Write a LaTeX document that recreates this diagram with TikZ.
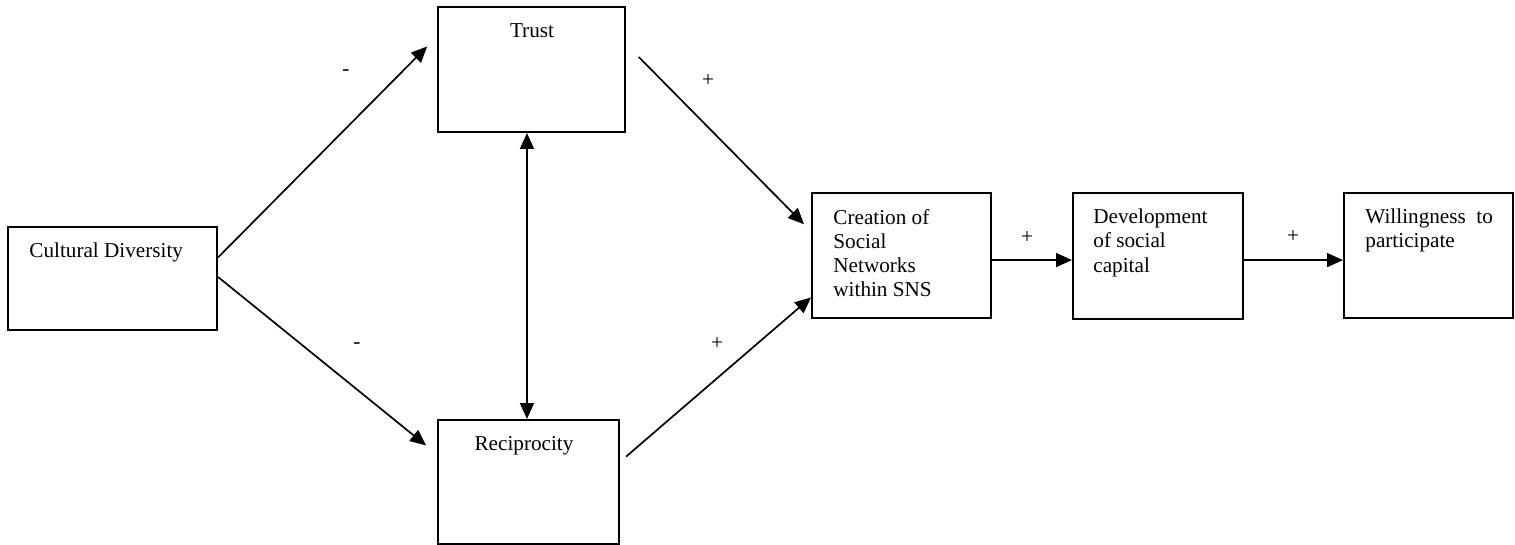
\documentclass[tikz,border=0pt]{standalone}
\usepackage{fontspec}
\setmainfont{Liberation Serif}
\usetikzlibrary{arrows.meta,calc}
\begin{document}
\begin{tikzpicture}[x=0.5pt,y=-0.5pt,
  box/.style={draw, line width=1pt, inner sep=0pt},
  txt/.style={inner sep=0pt, font=\fontsize{10.6pt}{12.15pt}\selectfont, align=left},
  sign/.style={inner sep=0pt, font=\fontsize{10.6pt}{12.15pt}\selectfont},
  arr/.style={-{Triangle[length=8pt,width=7pt]}, line width=0.85pt},
  darr/.style={{Triangle[length=8pt,width=7pt]}-{Triangle[length=8pt,width=7pt]}, line width=0.85pt}]
\useasboundingbox (0,0) rectangle (1515,545);
% boxes
\node[box, minimum width=104.5pt, minimum height=51.5pt] (cd) at (112.5,278.5) {};
\node[box, minimum width=93.5pt, minimum height=62.5pt] (trust) at (531.5,69.5) {};
\node[box, minimum width=90.5pt, minimum height=62pt] (recip) at (528.5,482) {};
\node[box, minimum width=89.5pt, minimum height=62.5pt] (cre) at (901.5,255.5) {};
\node[box, minimum width=85pt, minimum height=63pt] (dev) at (1158,256) {};
\node[box, minimum width=84.5pt, minimum height=62.5pt] (will) at (1428.5,255.5) {};
% texts (multi-line nodes: base = last line)
\node[txt, anchor=base west] (cdt) at (29,257) {Cultural Diversity};
\node[txt, anchor=base] (trt) at (532,38) {Trust};
\node[txt, anchor=base] (ret) at (524,450) {Reciprocity};
\node[txt, anchor=base west] (cret) at (833,297) {Creation of\\Social\\Networks\\within SNS};
\node[txt, anchor=base west] (devt) at (1093,272) {Development\\of social\\capital};
\node[txt, anchor=base west] (willt) at (1365,248) {Willingness\ \ to\\participate};
% signs
\node[sign] (s1) at (346,73) {-};
\node[sign] (s2) at (357,346) {-};
\node[sign] (s3) at (708,81) {+};
\node[sign] (s4) at (717,344) {+};
\node[sign] (s5) at (1027,238) {+};
\node[sign] (s6) at (1293,237) {+};
% anchor points
\coordinate (cdA) at ($(cd.north east)!0.30!(cd.south east)$);
\coordinate (cdB) at ($(cd.north east)!0.485!(cd.south east)$);
\coordinate (trW) at ($(trust.north west)!0.24!(trust.south west)$);
\coordinate (reW) at ($(recip.north west)!0.28!(recip.south west)$);
\coordinate (trE) at ($(trust.north east)!0.30!(trust.south east)$);
\coordinate (reE) at ($(recip.north east)!0.34!(recip.south east)$);
\coordinate (crW1) at ($(cre.north west)!0.31!(cre.south west)$);
\coordinate (crW2) at ($(cre.north west)!0.83!(cre.south west)$);
\coordinate (trS) at ($(trust.south west)!0.476!(trust.south east)$);
\coordinate (crE) at ($(cre.north east)!0.536!(cre.south east)$);
\coordinate (dvE) at ($(dev.north east)!0.532!(dev.south east)$);
% connectors
\draw[arr, shorten >=7pt] (cdA) -- (trW);
\draw[arr, shorten >=7pt] (cdB) -- (reW);
\draw[arr, shorten <=9pt, shorten >=5pt] (trE) -- (crW1);
\draw[arr, shorten <=4pt] (reE) -- (crW2);
\draw[darr] (trS) -- (trS |- recip.north);
\draw[arr] (crE) -- (crE -| dev.west);
\draw[arr] (dvE) -- (dvE -| will.west);
\end{tikzpicture}
\end{document}
